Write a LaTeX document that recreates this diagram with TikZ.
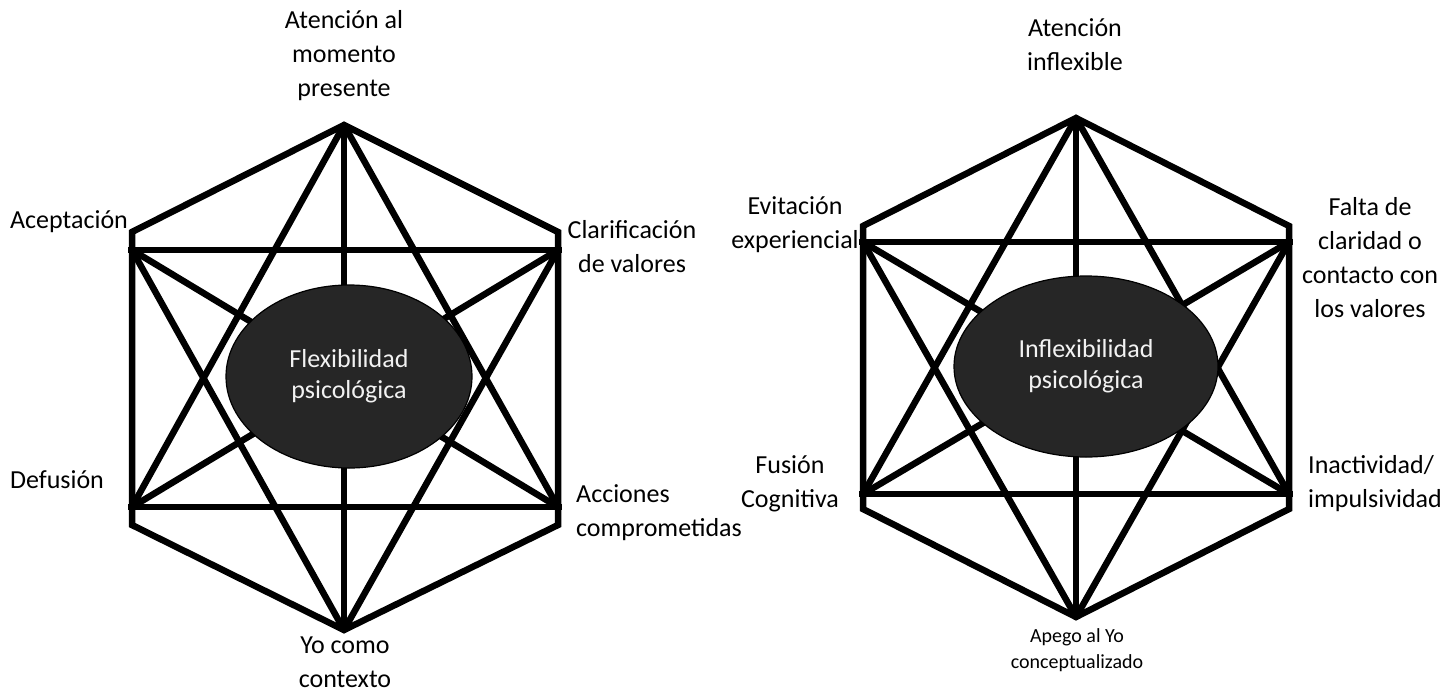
\documentclass[tikz,border=0pt]{standalone}
\usepackage{fontspec}
\setmainfont{Carlito}
\usetikzlibrary{shapes.geometric}
\definecolor{ellfill}{HTML}{262626}
\definecolor{elltext}{HTML}{F2F2F2}
\tikzset{
  hexline/.style={line width=6.5pt, line join=miter},
  crossline/.style={hexline, shorten <=-4pt, shorten >=-4pt},
  core/.style={ellipse, draw=black, line width=1.2pt, fill=ellfill, inner sep=0pt,
    text=elltext, align=center, font=\fontsize{26}{31}\selectfont},
  lab/.style={align=center, inner sep=0pt, font=\fontsize{26}{34}\selectfont},
  labl/.style={align=left, inner sep=0pt, anchor=west, font=\fontsize{26}{34}\selectfont},
  labs/.style={align=center, inner sep=0pt, font=\fontsize{20}{26}\selectfont}
}
\begin{document}
\begin{tikzpicture}[x=1pt,y=-1pt]
\useasboundingbox (0,0) rectangle (1446,694);
% ---------- left hexaflex ----------
\coordinate (LT) at (344,125);
\coordinate (LBo) at (344,630);
\coordinate (LHUL) at (132,232);
\coordinate (LHUR) at (558,232);
\coordinate (LHLL) at (132,525);
\coordinate (LHLR) at (558,525);
\coordinate (L1) at (132,250);
\coordinate (L2) at (558,250);
\coordinate (L3) at (132,507);
\coordinate (L4) at (558,507);
\draw[hexline] (LT) -- (LHUL) -- (LHLL) -- (LBo) -- (LHLR) -- (LHUR) -- cycle;
\draw[crossline] (L1) -- (L2);
\draw[crossline] (L3) -- (L4);
\draw[hexline] (LT) -- (LBo);
\draw[hexline] (LT) -- (L3);
\draw[hexline] (LT) -- (L4);
\draw[hexline] (LBo) -- (L1);
\draw[hexline] (LBo) -- (L2);
\draw[hexline] (L1) -- (L4);
\draw[hexline] (L2) -- (L3);
\node[core, minimum width=246pt, minimum height=183pt] (Lcore) at (349,376.5) {Flexibilidad\\psicológica};
\node[lab] (Ltop) at (344,56) {Atención al\\momento\\presente};
\node[lab] (Lacc) at (69,222) {Aceptación};
\node[lab] (Lcla) at (632,247) {Clarificación\\de valores};
\node[lab] (Ldef) at (57,480) {Defusión};
\node[labl] (Lact) at (576,513) {Acciones\\comprometidas};
\node[lab] (Lyo) at (345,662) {Yo como\\contexto};
% ---------- right hexaflex ----------
\coordinate (RT) at (1076,118);
\coordinate (RBo) at (1076,617);
\coordinate (RHUL) at (863,226);
\coordinate (RHUR) at (1289,226);
\coordinate (RHLL) at (863,509);
\coordinate (RHLR) at (1289,509);
\coordinate (R1) at (863,242);
\coordinate (R2) at (1289,242);
\coordinate (R3) at (863,494);
\coordinate (R4) at (1289,494);
\draw[hexline] (RT) -- (RHUL) -- (RHLL) -- (RBo) -- (RHLR) -- (RHUR) -- cycle;
\draw[crossline] (R1) -- (R2);
\draw[crossline] (R3) -- (R4);
\draw[hexline] (RT) -- (RBo);
\draw[hexline] (RT) -- (R3);
\draw[hexline] (RT) -- (R4);
\draw[hexline] (RBo) -- (R1);
\draw[hexline] (RBo) -- (R2);
\draw[hexline] (R1) -- (R4);
\draw[hexline] (R2) -- (R3);
\node[core, minimum width=264pt, minimum height=181pt] (Rcore) at (1086,366.5) {Inflexibilidad\\psicológica};
\node[lab] (Rtop) at (1075,45) {Atención\\inflexible};
\node[lab] (Revi) at (795,225) {Evitación\\experiencial};
\node[lab] (Rfal) at (1370,258) {Falta de\\claridad o\\contacto con\\los valores};
\node[lab] (Rfus) at (790,484) {Fusión\\Cognitiva};
\node[labl] (Rina) at (1308,484) {Inactividad/\\impulsividad};
\node[labs] (Rape) at (1077,650) {Apego al Yo\\conceptualizado};
\end{tikzpicture}
\end{document}
